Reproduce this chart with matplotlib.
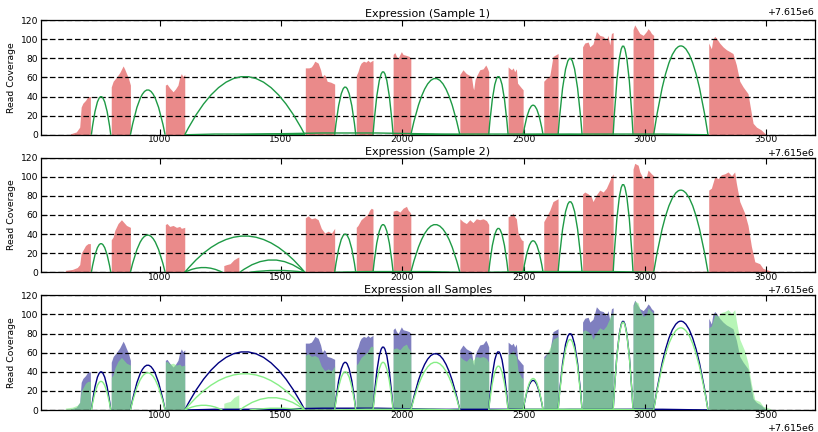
import numpy as np
import matplotlib
matplotlib.use('Agg')
import matplotlib.pyplot as plt
from matplotlib.path import Path
from matplotlib.patches import PathPatch
from matplotlib.ticker import ScalarFormatter, MultipleLocator

GENE_START = 7615000  # positions below are relative to this

# Sample 1 coverage, one list per exon block (relative position, reads)
S1_POS = [
    [632, 656, 670, 676, 683, 694, 704, 714],
    [800, 808, 821, 835, 849, 855, 863, 870, 879],
    [1023, 1030, 1041, 1055, 1065, 1075, 1082, 1089, 1095, 1103],
    [1600, 1615, 1625, 1633, 1639, 1653, 1663, 1670, 1676, 1682, 1690, 1705, 1721],
    [1810, 1817, 1824, 1830, 1840, 1850, 1858, 1866, 1872, 1879],
    [1962, 1969, 1976, 1983, 1990, 1996, 2003, 2017, 2028, 2035],
    [2237, 2250, 2264, 2285, 2291, 2294, 2300, 2305, 2319, 2333, 2344, 2350, 2356],
    [2436, 2450, 2457, 2463, 2470, 2475, 2491, 2498],
    [2583, 2594, 2608, 2614, 2621, 2628, 2642],
    [2743, 2752, 2766, 2773, 2786, 2800, 2807, 2814, 2828, 2841, 2848, 2855, 2862, 2869],
    [2951, 2958, 2965, 2979, 2993, 3006, 3013, 3020, 3027, 3036],
    [3038, 3261],
    [3263, 3274, 3280, 3288, 3295, 3308, 3322, 3336, 3350, 3363, 3377, 3391, 3405,
     3425, 3439, 3446, 3460, 3480, 3494, 3500],
]
S1_COV = [
    [1, 3, 8, 29, 33, 36, 40, 40],
    [50, 56, 60, 65, 72, 69, 64, 60, 52],
    [52, 53, 49, 45, 48, 52, 60, 64, 61, 63],
    [70, 70, 71, 74, 77, 75, 68, 60, 63, 62, 56, 55, 53],
    [62, 66, 72, 75, 77, 76, 78, 76, 77, 78],
    [84, 86, 82, 80, 84, 87, 84, 83, 82, 80],
    [63, 68, 64, 61, 50, 47, 58, 61, 68, 69, 73, 70, 66],
    [71, 68, 70, 66, 69, 54, 49, 47],
    [56, 59, 62, 71, 82, 83, 85],
    [92, 96, 97, 92, 95, 108, 106, 104, 103, 99, 104, 94, 106, 107],
    [110, 115, 112, 106, 104, 108, 111, 109, 106, 104],
    [1, 1],
    [96, 90, 100, 103, 101, 96, 92, 89, 87, 85, 73, 56, 50, 43, 22, 12, 8, 5, 1.5, 0.5],
]

# Sample 2 coverage
S2_POS = [
    [611, 640, 660, 670, 676, 683, 694, 704, 714],
    [800, 808, 815, 828, 842, 849, 863, 879],
    [1023, 1030, 1041, 1055, 1069, 1082, 1089, 1103],
    [1264, 1275, 1290, 1305, 1318, 1326],
    [1326, 1370],
    [1600, 1612, 1625, 1639, 1653, 1666, 1680, 1694, 1708, 1721],
    [1810, 1817, 1830, 1844, 1858, 1865, 1872, 1879],
    [1962, 1976, 1990, 2003, 2017, 2024, 2031, 2035],
    [2237, 2250, 2264, 2278, 2291, 2305, 2319, 2333, 2347, 2356],
    [2436, 2450, 2457, 2463, 2470, 2477, 2491, 2498],
    [2583, 2594, 2608, 2621, 2635, 2642],
    [2743, 2752, 2766, 2779, 2786, 2800, 2814, 2828, 2841, 2855, 2862, 2869],
    [2871, 2949],
    [2951, 2958, 2972, 2979, 2993, 3006, 3013, 3020, 3027, 3036],
    [3038, 3261],
    [3263, 3274, 3288, 3302, 3315, 3329, 3343, 3357, 3370, 3377, 3391, 3411, 3425,
     3439, 3453, 3473, 3487, 3514, 3521],
]
S2_COV = [
    [2, 3, 5, 8, 20, 23, 28, 30, 30],
    [34, 37, 44, 51, 55, 53, 49, 47],
    [50, 51, 48, 49, 47, 48, 46, 47],
    [7, 8, 9, 13, 15, 16],
    [1, 1],
    [57, 59, 56, 57, 55, 46, 41, 43, 41, 46],
    [47, 49, 55, 58, 61, 65, 67, 66],
    [64, 65, 63, 67, 69, 65, 63, 61],
    [56, 53, 51, 55, 52, 56, 55, 56, 54, 50],
    [58, 60, 62, 58, 56, 41, 34, 33],
    [53, 58, 65, 74, 76, 77],
    [82, 84, 82, 79, 74, 81, 86, 84, 88, 96, 100, 103],
    [1, 1],
    [108, 114, 112, 105, 98, 100, 107, 105, 103, 101],
    [1, 1],
    [86, 88, 100, 98, 102, 103, 105, 101, 105, 93, 74, 62, 49, 27, 11, 9, 4, 1.7, 0.5],
]

# splice junctions: start, end, read count
S1_JUNC_START = [718, 879, 1103, 1721, 1879, 2035, 2356, 2498, 2642, 2869, 3036,
                 1103, 1330, 2035, 2498]
S1_JUNC_END = [798, 1022, 1598, 1808, 1962, 2237, 2436, 2580, 2741, 2951, 3260,
               1598, 2237, 2743, 3263]
S1_JUNC_COUNT = [40, 47, 61, 50, 66, 59, 61, 31, 80, 93, 93,
                 1, 2, 1, 1]

S2_JUNC_START = [718, 879, 1103, 1103, 1330, 1370, 1721, 1879, 2035, 2356, 2498,
                 2642, 2869, 3036, 1721, 2356]
S2_JUNC_END = [798, 1022, 1598, 1258, 1598, 1598, 1808, 1962, 2237, 2436, 2580,
               2741, 2951, 3260, 2237, 3036]
S2_JUNC_COUNT = [30, 39, 38, 5, 13, 2, 40, 50, 50, 46, 33,
                 74, 92, 86, 1, 1]


def coverage_path(blocks_pos, blocks_cov):
    xs, ys = [], []
    for p, c in zip(blocks_pos, blocks_cov):
        xs += [p[0]] + p + [p[-1]]
        ys += [0] + c + [0]
    return GENE_START + np.array(xs), np.array(ys, dtype=float)


def draw_junctions(ax, starts, ends, counts, color):
    # quadratic bezier, control point at twice the count -> peak at count
    for s, e, c in zip(starts, ends, counts):
        s += GENE_START
        e += GENE_START
        verts = [(s, 0), ((s + e) / 2.0, 2 * c), (e, 0)]
        path = Path(verts, [Path.MOVETO, Path.CURVE3, Path.CURVE3])
        ax.add_patch(PathPatch(path, facecolor='none', edgecolor=color, lw=1.0, zorder=3))


def style_axes(ax, title):
    ax.set_xlim(GENE_START + 510, GENE_START + 3700)
    ax.set_ylim(0, 120)
    ax.yaxis.set_major_locator(MultipleLocator(20))
    ax.xaxis.set_major_locator(MultipleLocator(500))
    ax.xaxis.set_major_formatter(ScalarFormatter(useOffset=GENE_START))
    ax.xaxis.get_offset_text().set_fontsize(6.8)
    ax.set_axisbelow(False)
    ax.yaxis.grid(True, linestyle=(0, (4.5, 2.2)), color='k', lw=0.9)
    ax.tick_params(direction='in', top=True, right=True, labelsize=6.6, length=4, pad=2)
    ax.tick_params(axis='x', pad=0.5)
    ax.set_ylabel('Read Coverage', fontsize=6.7, labelpad=3)
    ax.set_title(title, fontsize=8, pad=2)
    for sp in ax.spines.values():
        sp.set_linewidth(0.9)


fig = plt.figure(figsize=(8.18, 4.32), dpi=100)
ax1 = fig.add_axes([0.050, 0.688, 0.946, 0.2655])
ax2 = fig.add_axes([0.050, 0.3697, 0.946, 0.2655])
ax3 = fig.add_axes([0.050, 0.0509, 0.946, 0.2655])

x1, y1 = coverage_path(S1_POS, S1_COV)
x2, y2 = coverage_path(S2_POS, S2_COV)

ax1.fill_between(x1, y1, 0, color='#EA8A8A', lw=0)
draw_junctions(ax1, S1_JUNC_START, S1_JUNC_END, S1_JUNC_COUNT, '#1e9a45')
style_axes(ax1, 'Expression (Sample 1)')

ax2.fill_between(x2, y2, 0, color='#EA8A8A', lw=0)
draw_junctions(ax2, S2_JUNC_START, S2_JUNC_END, S2_JUNC_COUNT, '#1e9a45')
style_axes(ax2, 'Expression (Sample 2)')

ax3.fill_between(x1, y1, 0, color='#000080', alpha=0.5, lw=0)
ax3.fill_between(x2, y2, 0, color='#7CEE7C', alpha=0.55, lw=0)
draw_junctions(ax3, S1_JUNC_START, S1_JUNC_END, S1_JUNC_COUNT, '#000080')
draw_junctions(ax3, S2_JUNC_START, S2_JUNC_END, S2_JUNC_COUNT, '#86EE86')
style_axes(ax3, 'Expression all Samples')

# offset label of the panel above, cut off by the crop
fig.text(0.996, 0.961, '+7.615e6', ha='right', va='bottom', fontsize=6.8)

fig.savefig('out.png', dpi=100)
